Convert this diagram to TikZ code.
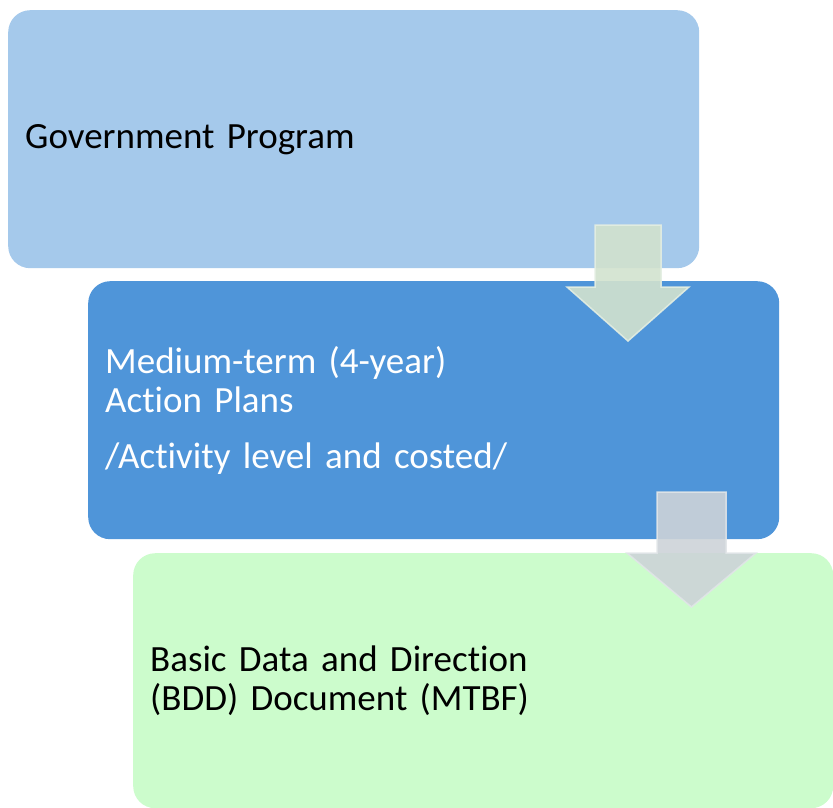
\documentclass[tikz,border=0pt]{standalone}
\usepackage{fontspec}
\setmainfont{Carlito}[Ligatures=NoCommon]
\definecolor{govblue}{HTML}{A5C9EB}
\definecolor{planblue}{HTML}{4F95D9}
\definecolor{bddgreen}{HTML}{CCFCCC}
\definecolor{arrowgreen}{HTML}{D2E2CE}
\definecolor{arrowgrey}{HTML}{CDD3D8}
\tikzset{
  stage/.style={anchor=north west, rounded corners=22pt, inner xsep=17pt, inner ysep=0pt,
    align=left, text width=657pt, minimum height=258pt,
    font=\fontsize{37pt}{39.5pt}\selectfont},
  downarrow/.style={fill opacity=0.9, draw opacity=0.9, line width=1.5pt, line join=miter}
}
\begin{document}
\begin{tikzpicture}[x=1pt,y=-1pt]
\useasboundingbox (0,0) rectangle (833,808);
% the three stages
\node[stage, fill=govblue] (gov) at (8,10) {Government Program};
\node[stage, fill=planblue, text=white] (plans) at (88,281) {Medium-term (4-year)\\Action Plans\\[16pt]/Activity level and costed/};
\fill[downarrow, fill=arrowgreen, draw=arrowgreen!60!white] (595,225) -- (661,225) -- (661,287) -- (689,287) -- (628,341) -- (567,287) -- (595,287) -- cycle;
\node[stage, fill=bddgreen, text width=666pt, minimum height=255pt] (bdd) at (133,553) {Basic Data and Direction\\(BDD) Document (MTBF)};
\fill[downarrow, fill=arrowgrey, draw=arrowgrey!60!white] (657,492) -- (726,492) -- (726,553) -- (756,553) -- (691.5,607) -- (627,553) -- (657,553) -- cycle;
\end{tikzpicture}
\end{document}
